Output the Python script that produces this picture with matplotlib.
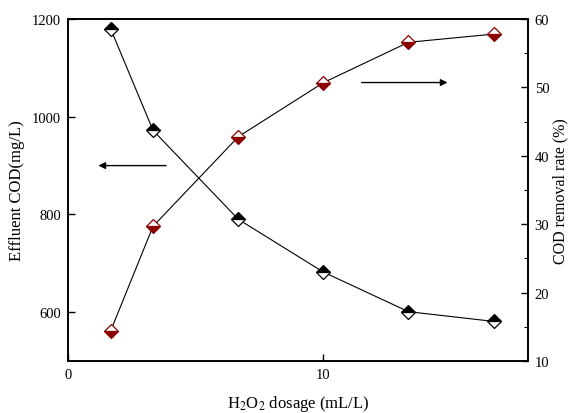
import matplotlib
import numpy as np

matplotlib.use("Agg")
import matplotlib.pyplot as plt
from matplotlib.ticker import MultipleLocator

# H2O2 dosage (mL/L)
dosage = [1.67, 3.33, 6.67, 10.0, 13.33, 16.67]
# effluent COD (mg/L), left axis
effluent_cod = [1180, 972, 790, 682, 601, 581]
# COD removal rate (%), right axis
removal_rate = [14.4, 29.7, 42.8, 50.7, 56.6, 57.8]

plt.rcParams["font.family"] = ["Liberation Serif", "DejaVu Serif"]
plt.rcParams["font.size"] = 10.5
plt.rcParams["mathtext.fontset"] = "stix"

fig = plt.figure(figsize=(5.69, 4.14), dpi=100)
ax1 = fig.add_axes([0.1195, 0.1256, 0.808, 0.826])
ax2 = ax1.twinx()

dark_red = "#8b0000"

ax1.plot(dosage, effluent_cod, color="black", linewidth=0.8,
         marker="D", markersize=7.5, fillstyle="top",
         markerfacecolor="black", markerfacecoloralt="white",
         markeredgecolor="black", markeredgewidth=0.9, zorder=3)
ax2.plot(dosage, removal_rate, color="black", linewidth=0.8, zorder=2)
ax2.plot(dosage, removal_rate, linestyle="none",
         marker="D", markersize=7.5, fillstyle="bottom",
         markerfacecolor=dark_red, markerfacecoloralt="white",
         markeredgecolor=dark_red, markeredgewidth=0.9, zorder=3)

ax1.set_xlim(0, 18)
ax1.set_ylim(500, 1200)
ax2.set_ylim(10, 60)

ax1.set_xticks([0, 10])
ax1.set_yticks([600, 800, 1000, 1200])
ax2.set_yticks(np.arange(10, 61, 10))
ax2.yaxis.set_minor_locator(MultipleLocator(5))

for ax in (ax1, ax2):
    ax.tick_params(direction="in", which="major", length=5, width=1.0, pad=5)
    ax.tick_params(direction="in", which="minor", length=3, width=0.8)
    for sp in ax.spines.values():
        sp.set_linewidth(1.2)
ax1.tick_params(top=False, right=False)

ax1.set_xlabel(r"H$_2$O$_2$ dosage (mL/L)", fontsize=12, labelpad=9)
ax1.set_ylabel("Effluent COD(mg/L)", fontsize=12, labelpad=5)
ax2.set_ylabel("COD removal rate (%)", fontsize=11.5, labelpad=2)

# arrows pointing to each series' axis
ax1.annotate("", xy=(1.19, 900), xytext=(3.84, 900),
             arrowprops=dict(arrowstyle="-|>", color="black", lw=1.0,
                             mutation_scale=10, shrinkA=0, shrinkB=0))
ax1.annotate("", xy=(14.86, 1070), xytext=(11.5, 1070),
             arrowprops=dict(arrowstyle="-|>", color="black", lw=1.0,
                             mutation_scale=10, shrinkA=0, shrinkB=0))

fig.savefig("out.png", dpi=100)
